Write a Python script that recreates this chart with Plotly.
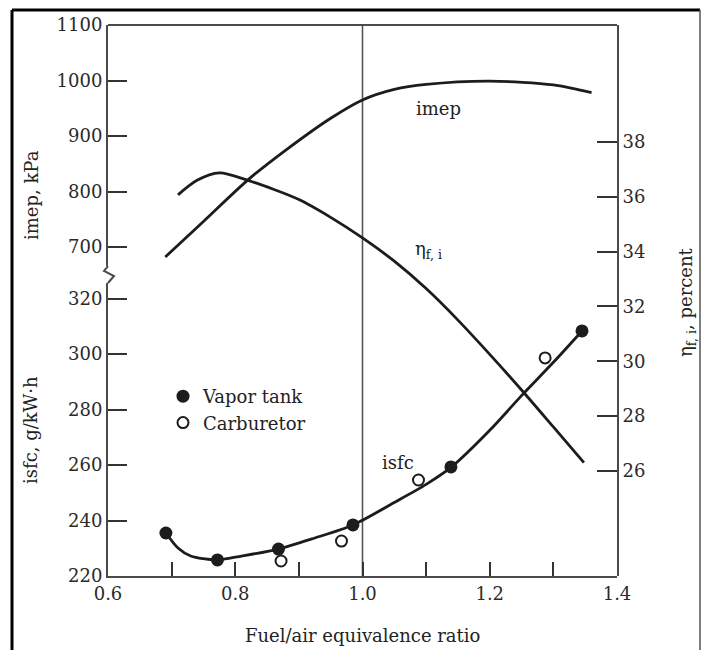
import plotly.graph_objects as go

# ---------------- data ----------------
phi_imep = [0.69, 0.75, 0.82, 0.88, 0.95, 1.00, 1.05, 1.10, 1.20, 1.30, 1.36]
imep_kpa = [682, 746, 821, 875, 932, 965, 984, 993, 999, 992, 978]

phi_eta = [0.71, 0.74, 0.775, 0.82, 0.90, 0.95, 1.00, 1.05, 1.10, 1.15, 1.20, 1.25, 1.30, 1.348]
eta_pct = [36.07, 36.6, 36.87, 36.6, 35.9, 35.25, 34.5, 33.65, 32.65, 31.5, 30.25, 28.95, 27.6, 26.3]

phi_isfc = [0.691, 0.71, 0.73, 0.77, 0.81, 0.868, 0.925, 0.985, 1.05, 1.10, 1.14, 1.20, 1.25, 1.30, 1.345]
isfc_curve = [235.5, 230.1, 227.2, 225.8, 227.2, 229.7, 233.7, 238.4, 246.5, 253.0, 259.3, 272.5, 285.0, 297.0, 308.3]

phi_vapor = [0.691, 0.772, 0.868, 0.985, 1.139, 1.345]
isfc_vapor = [235.5, 225.8, 229.7, 238.4, 259.3, 308.3]

phi_carb = [0.872, 0.967, 1.088, 1.287]
isfc_carb = [225.4, 232.6, 254.6, 298.6]

x_ticks = [0.6, 0.7, 0.8, 0.9, 1.0, 1.1, 1.2, 1.3, 1.4]
x_ticktext = ["0.6", "", "0.8", "", "1.0", "", "1.2", "", "1.4"]
isfc_ticks = [220, 240, 260, 280, 300, 320]
imep_ticks = [700, 800, 900, 1000, 1100]
eta_ticks = [26, 28, 30, 32, 34, 36, 38]

# ---------------- styling ----------------
FONT = "DejaVu Serif"
INK = "#1c1c1c"
AX = "#4a4a4a"
W, H = 703, 650
L, R, T, B = 108, 86, 25, 74
PW, PH = W - L - R, H - T - B

def px2p(x, y):
    return (x - L) / PW, (H - B - y) / PH

fig = go.Figure()

line_style = dict(color=INK, width=2.8, shape="spline", smoothing=0.8)

fig.add_trace(go.Scatter(x=phi_imep, y=imep_kpa, mode="lines", line=line_style,
                         xaxis="x", yaxis="y3", showlegend=False, hoverinfo="skip"))
fig.add_trace(go.Scatter(x=phi_eta, y=eta_pct, mode="lines", line=line_style,
                         xaxis="x", yaxis="y2", showlegend=False, hoverinfo="skip"))
fig.add_trace(go.Scatter(x=phi_isfc, y=isfc_curve, mode="lines", line=line_style,
                         xaxis="x", yaxis="y", showlegend=False, hoverinfo="skip",
                         cliponaxis=False))
fig.add_trace(go.Scatter(x=phi_vapor, y=isfc_vapor, mode="markers", name="Vapor tank",
                         marker=dict(symbol="circle", size=13, color=INK),
                         xaxis="x", yaxis="y", cliponaxis=False))
fig.add_trace(go.Scatter(x=phi_carb, y=isfc_carb, mode="markers", name="Carburetor",
                         marker=dict(symbol="circle-open", size=11, color=INK, line=dict(width=2)),
                         xaxis="x", yaxis="y", cliponaxis=False))

tickfont = dict(family=FONT, size=18, color="#2a2a2a")

# break geometry (pixels)
brk_top, brk_bot = 266, 283
lower_top = px2p(0, brk_bot)[1]
upper_bot = px2p(0, brk_top)[1]
isfc_per_px = 20 / 55.5
imep_per_px = 100 / 55.5
isfc_lo = 220
isfc_hi = 220 + (H - B - brk_bot) * isfc_per_px
imep_hi = 1100
imep_lo = 1100 - (brk_top - T) * imep_per_px
eta_per_px = 2 / 54.8
eta_hi = 38 + (142 - T) * eta_per_px
eta_lo = 38 - (H - B - 142) * eta_per_px

axis_common = dict(showgrid=False, zeroline=False, showline=True, linecolor=AX, linewidth=2,
                   ticks="inside", tickcolor="#333", tickwidth=2, tickfont=tickfont)

fig.update_layout(
    width=W, height=H,
    margin=dict(l=L, r=R, t=T, b=B, pad=0),
    paper_bgcolor="white", plot_bgcolor="rgba(0,0,0,0)",
    font=dict(family=FONT, color="#222"),
    xaxis=dict(domain=[0, 1], range=[0.6, 1.4], tickvals=x_ticks, ticktext=x_ticktext,
               ticklen=14, anchor="y", **axis_common),
    yaxis=dict(domain=[0, lower_top], range=[isfc_lo, isfc_hi], tickvals=isfc_ticks,
               ticklen=19, anchor="x", side="left", **axis_common),
    yaxis3=dict(domain=[upper_bot, 1], range=[imep_lo, imep_hi], tickvals=imep_ticks,
                ticklen=19, anchor="x", side="left", **axis_common),
    yaxis2=dict(domain=[0, 1], range=[eta_lo, eta_hi], tickvals=eta_ticks,
                ticklen=20, anchor="x", side="right", **axis_common),
    legend=dict(x=px2p(163, 0)[0], y=px2p(0, 378)[1], xanchor="left", yanchor="top",
                bgcolor="rgba(0,0,0,0)", borderwidth=0,
                font=dict(family=FONT, size=18, color="#222"), itemwidth=30,
                tracegroupgap=0),
    showlegend=True,
)

shapes = []
# top frame of plot
shapes.append(dict(type="line", xref="paper", yref="paper", x0=0, x1=1, y0=1, y1=1,
                   line=dict(color=AX, width=2)))
# vertical reference line at phi = 1.0
shapes.append(dict(type="line", xref="x", yref="paper", x0=1.0, x1=1.0, y0=0, y1=1,
                   line=dict(color="#555", width=1.6), layer="below"))
# axis break zigzag on left axis
zz = [(L, brk_top), (L - 4, brk_top + 5), (L + 6, brk_top + 10), (L, brk_bot)]
path = "M " + " L ".join(f"{px2p(a, b)[0]:.5f},{px2p(a, b)[1]:.5f}" for a, b in zz)
shapes.append(dict(type="path", xref="paper", yref="paper", path=path,
                   line=dict(color=AX, width=2)))
# outer picture frame
fx0, fy0 = px2p(12, 10)
fx1, _ = px2p(700, 10)
_, fyb = px2p(0, 652)
shapes.append(dict(type="line", xref="paper", yref="paper", x0=fx0, x1=fx0, y0=fyb, y1=fy0,
                   line=dict(color="black", width=3)))
shapes.append(dict(type="line", xref="paper", yref="paper", x0=fx0, x1=fx1, y0=fy0, y1=fy0,
                   line=dict(color="black", width=3)))
shapes.append(dict(type="line", xref="paper", yref="paper", x0=fx1, x1=fx1, y0=fyb, y1=fy0,
                   line=dict(color="#555", width=1.5)))
fig.update_layout(shapes=shapes)

ann = []
def pann(text, cx, cy, size=18, angle=0):
    xp, yp = px2p(cx, cy)
    ann.append(dict(text=text, xref="paper", yref="paper", x=xp, y=yp, showarrow=False,
                    xanchor="center", yanchor="middle", textangle=angle,
                    font=dict(family=FONT, size=size, color="#222")))

pann("imep, kPa", 32, 195, 18, -90)
pann("isfc, g/kW·h", 30, 430, 18, -90)
pann("η<sub>f, i</sub>, percent", 687, 302, 18, -90)
pann("Fuel/air equivalence ratio", 362, 635, 18)
pann("imep", 438, 108, 18)
pann("η<sub>f, i</sub>", 428, 250, 18)
pann("isfc", 398, 462, 18)
fig.update_layout(annotations=ann)

fig.write_html("out.html")
